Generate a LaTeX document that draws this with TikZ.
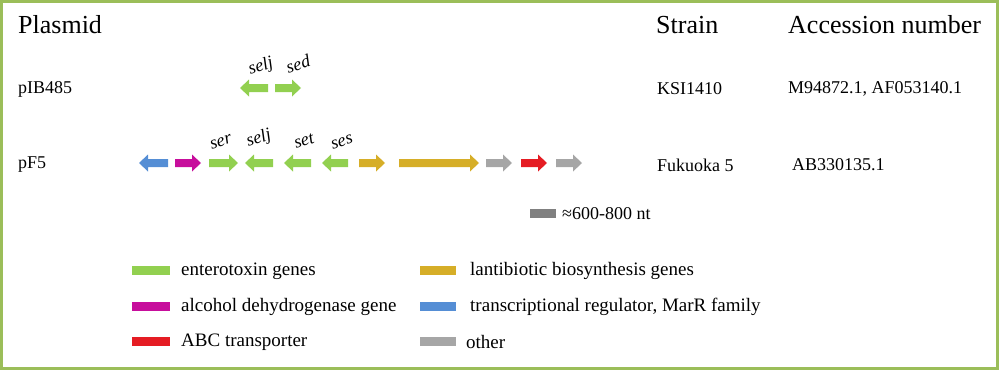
\documentclass[tikz,border=0pt]{standalone}
\usepackage{fontspec}
\setmainfont{Liberation Serif}
\definecolor{cgreen}{RGB}{146,208,80}
\definecolor{cmag}{RGB}{199,14,156}
\definecolor{cblue}{RGB}{85,142,213}
\definecolor{cgold}{RGB}{214,174,40}
\definecolor{cred}{RGB}{229,28,35}
\definecolor{cgray}{RGB}{166,166,166}
\definecolor{cdgray}{RGB}{128,128,128}
\definecolor{cframe}{RGB}{155,190,89}
\begin{document}
\begin{tikzpicture}[x=1pt,y=-1pt,
  head/.style={font=\fontsize{26}{30}\selectfont, anchor=west, inner sep=0pt},
  rowtxt/.style={font=\fontsize{18}{20}\selectfont, anchor=west, inner sep=0pt},
  genelab/.style={font=\fontsize{18}{20}\selectfont\itshape, rotate=18, inner sep=0pt},
  legtxt/.style={font=\fontsize{19}{22}\selectfont, anchor=west, inner sep=0pt},
  swatch/.style={minimum width=38pt, minimum height=9pt, inner sep=0pt, anchor=west},
  pics/gene/.style n args={2}{code={
    \fill[#2] (0,-4) -- (#1-9,-4) -- (#1-9,-8.5) -- (#1,0) -- (#1-9,8.5) -- (#1-9,4) -- (0,4) -- cycle;}}
]
\useasboundingbox (0,0) rectangle (1000,370);
\draw[cframe, line width=2.5pt] (1.5,1.5) rectangle (997.5,368.5);

% headers
\node[head] (hplasmid) at (18,25) {Plasmid};
\node[head] (hstrain) at (656,25) {Strain};
\node[head] (hacc) at (788,25) {Accession number};

% row pIB485
\node[rowtxt] (p1) at (18,89) {pIB485};
\node[rowtxt] (s1) at (657,89) {KSI1410};
\node[rowtxt] (a1) at (788,89) {M94872.1, AF053140.1};
\pic[xscale=-1] at (268,88) {gene={28}{cgreen}};
\pic at (275,88) {gene={26}{cgreen}};
\node[genelab] (l1) at (261,67) {selj};
\node[genelab] (l2) at (298,64) {sed};

% row pF5
\node[rowtxt] (p2) at (18,165) {pF5};
\node[rowtxt] (s2) at (657,165) {Fukuoka 5};
\node[rowtxt] (a2) at (792,165) {AB330135.1};
\pic[xscale=-1] at (168,163) {gene={29}{cblue}};
\pic at (175,163) {gene={26}{cmag}};
\pic at (209,163) {gene={29}{cgreen}};
\pic[xscale=-1] at (273,163) {gene={28}{cgreen}};
\pic[xscale=-1] at (311,163) {gene={27}{cgreen}};
\pic[xscale=-1] at (348,163) {gene={26}{cgreen}};
\pic at (359,163) {gene={26}{cgold}};
\pic at (399,163) {gene={80}{cgold}};
\pic at (486,163) {gene={26}{cgray}};
\pic at (521,163) {gene={26}{cred}};
\pic at (556,163) {gene={26}{cgray}};
\node[genelab] (l3) at (221,142) {ser};
\node[genelab] (l4) at (259,139) {selj};
\node[genelab] (l5) at (304,141) {set};
\node[genelab] (l6) at (342,142) {ses};

% scale
\node[swatch, fill=cdgray, minimum width=26pt] (sc) at (530,213) {};
\node[legtxt, font=\fontsize{18}{20}\selectfont] (sct) at (562,214) {≈600-800 nt};

% legend
\node[swatch, fill=cgreen] (k1) at (132,270) {};
\node[legtxt] (t1) at (181,271) {enterotoxin genes};
\node[swatch, fill=cmag] (k2) at (132,306) {};
\node[legtxt] (t2) at (181,307) {alcohol dehydrogenase gene};
\node[swatch, fill=cred] (k3) at (132,341) {};
\node[legtxt] (t3) at (181,342) {ABC transporter};
\node[swatch, fill=cgold, minimum width=36pt] (k4) at (420,270) {};
\node[legtxt] (t4) at (470,271) {lantibiotic biosynthesis genes};
\node[swatch, fill=cblue, minimum width=36pt] (k5) at (420,306) {};
\node[legtxt] (t5) at (470,307) {transcriptional regulator, MarR family};
\node[swatch, fill=cgray, minimum width=36pt] (k6) at (420,341) {};
\node[legtxt] (t6) at (466,342) {other};
\end{tikzpicture}
\end{document}
